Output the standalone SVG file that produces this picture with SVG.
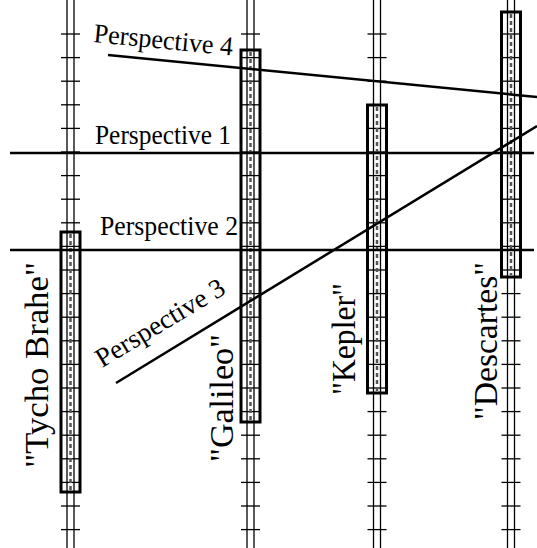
<svg xmlns="http://www.w3.org/2000/svg" width="537" height="548" viewBox="0 0 537 548">
<defs>
<style>
.rail{stroke:#000;stroke-width:1.3;fill:none}
.tick{stroke:#000;stroke-width:1.3}
.box{fill:none;stroke:#000;stroke-width:3}
.dash{stroke:#555;stroke-width:2.5;stroke-dasharray:4 3;fill:none}
.persp{stroke:#000;stroke-width:2.5;fill:none}
.lbl{font-family:'Liberation Serif',serif;font-size:27px;fill:#000}
.vl{font-size:33px}
</style>
<g id="ticks">
<line class="tick" x1="-9.5" x2="9.5" y1="34" y2="34"/>
<line class="tick" x1="-9.5" x2="9.5" y1="57.6" y2="57.6"/>
<line class="tick" x1="-9.5" x2="9.5" y1="81.2" y2="81.2"/>
<line class="tick" x1="-9.5" x2="9.5" y1="104.8" y2="104.8"/>
<line class="tick" x1="-9.5" x2="9.5" y1="128.4" y2="128.4"/>
<line class="tick" x1="-9.5" x2="9.5" y1="152" y2="152"/>
<line class="tick" x1="-9.5" x2="9.5" y1="175.6" y2="175.6"/>
<line class="tick" x1="-9.5" x2="9.5" y1="199.2" y2="199.2"/>
<line class="tick" x1="-9.5" x2="9.5" y1="222.8" y2="222.8"/>
<line class="tick" x1="-9.5" x2="9.5" y1="246.4" y2="246.4"/>
<line class="tick" x1="-9.5" x2="9.5" y1="270" y2="270"/>
<line class="tick" x1="-9.5" x2="9.5" y1="293.6" y2="293.6"/>
<line class="tick" x1="-9.5" x2="9.5" y1="317.2" y2="317.2"/>
<line class="tick" x1="-9.5" x2="9.5" y1="340.8" y2="340.8"/>
<line class="tick" x1="-9.5" x2="9.5" y1="364.4" y2="364.4"/>
<line class="tick" x1="-9.5" x2="9.5" y1="388" y2="388"/>
<line class="tick" x1="-9.5" x2="9.5" y1="411.6" y2="411.6"/>
<line class="tick" x1="-9.5" x2="9.5" y1="435.2" y2="435.2"/>
<line class="tick" x1="-9.5" x2="9.5" y1="458.8" y2="458.8"/>
<line class="tick" x1="-9.5" x2="9.5" y1="482.4" y2="482.4"/>
<line class="tick" x1="-9.5" x2="9.5" y1="506" y2="506"/>
<line class="tick" x1="-9.5" x2="9.5" y1="529.6" y2="529.6"/>
<line class="rail" x1="-3.5" x2="-3.5" y1="0" y2="548"/>
<line class="rail" x1="3.5" x2="3.5" y1="0" y2="548"/>
</g>
</defs>

<g id="tycho">
<use href="#ticks" transform="translate(70.5,0)"/>
<rect class="box" x="61" y="232" width="19" height="260"/>
<line class="dash" x1="70.5" x2="70.5" y1="234" y2="490"/>
<text class="lbl vl" transform="translate(48,468) rotate(-90)" textLength="206" lengthAdjust="spacingAndGlyphs">"Tycho Brahe"</text>
</g>

<g id="galileo">
<use href="#ticks" transform="translate(250.5,0)"/>
<rect class="box" x="241" y="50" width="19" height="372"/>
<line class="dash" x1="250.5" x2="250.5" y1="52" y2="420"/>
<text class="lbl vl" transform="translate(233,462) rotate(-90)" textLength="128" lengthAdjust="spacingAndGlyphs">"Galileo"</text>
</g>

<g id="kepler">
<use href="#ticks" transform="translate(377,0)"/>
<rect class="box" x="367.5" y="105" width="19" height="288"/>
<line class="dash" x1="377" x2="377" y1="107" y2="391"/>
<text class="lbl vl" transform="translate(355,395) rotate(-90)" textLength="112" lengthAdjust="spacingAndGlyphs">"Kepler"</text>
</g>

<g id="descartes">
<use href="#ticks" transform="translate(511,0)"/>
<rect class="box" x="501.5" y="12" width="19" height="265"/>
<line class="dash" x1="511" x2="511" y1="14" y2="275"/>
<text class="lbl vl" transform="translate(497,420) rotate(-90)" textLength="158" lengthAdjust="spacingAndGlyphs">"Descartes"</text>
</g>

<g id="connectors">
<line class="persp" x1="10" y1="153" x2="534" y2="153"/>
<line class="persp" x1="10" y1="250" x2="534" y2="250"/>
<line class="persp" x1="108" y1="55" x2="537" y2="97"/>
<line class="persp" x1="116" y1="383" x2="537" y2="126"/>
</g>

<g id="labels">
<text class="lbl" x="95" y="144" textLength="136" lengthAdjust="spacingAndGlyphs">Perspective 1</text>
<text class="lbl" x="100" y="235" textLength="138" lengthAdjust="spacingAndGlyphs">Perspective 2</text>
<text class="lbl" transform="translate(102,368) rotate(-31)" textLength="146" lengthAdjust="spacingAndGlyphs">Perspective 3</text>
<text class="lbl" transform="translate(93,42) rotate(5.5)" textLength="140" lengthAdjust="spacingAndGlyphs">Perspective 4</text>
</g>
</svg>
